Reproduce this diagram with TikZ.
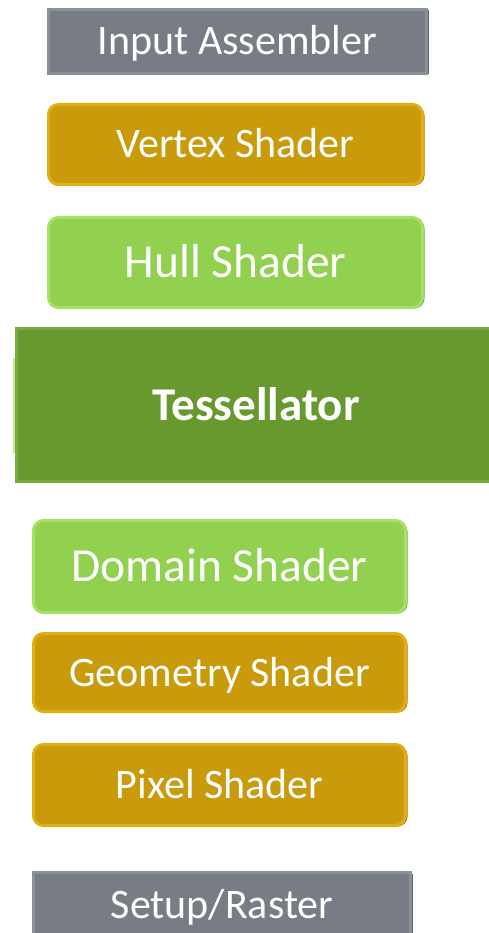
\documentclass[tikz,border=0pt]{standalone}
\usepackage{fontspec}
\setmainfont{Carlito}
\usetikzlibrary{shadows}
\definecolor{grayM}{HTML}{787C84}
\definecolor{grayL}{HTML}{8C9098}
\definecolor{grayD}{HTML}{5E6268}
\definecolor{goldM}{HTML}{C99A0A}
\definecolor{goldL}{HTML}{E2AE12}
\definecolor{goldD}{HTML}{9C7808}
\definecolor{lgM}{HTML}{92D050}
\definecolor{lgL}{HTML}{A6E064}
\definecolor{lgD}{HTML}{70A43E}
\definecolor{dgM}{HTML}{68992F}
\definecolor{dgL}{HTML}{78AA3C}
\definecolor{dgD}{HTML}{527E26}
\definecolor{artL}{HTML}{C8E4A4}
\begin{document}
\begin{tikzpicture}[x=1pt,y=-1pt,
  stage/.style n args={5}{rectangle, fill=#1, draw=#2, line width=3pt,
    general shadow={fill=#3, shadow xshift=2pt, shadow yshift=-1pt},
    minimum width=#4-3pt, minimum height=#5-3pt, inner sep=0pt,
    text=white, text depth=0pt},
  grayst/.style 2 args={stage={grayM}{grayL}{grayD}{#1}{#2}},
  goldst/.style 2 args={stage={goldM}{goldL}{goldD}{#1}{#2}, rounded corners=10pt},
  lgst/.style 2 args={stage={lgM}{lgL}{lgD}{#1}{#2}, rounded corners=10pt},
  dgst/.style 2 args={stage={dgM}{dgL}{dgD}{#1}{#2}},
  small/.style={font=\fontsize{42}{50}\selectfont, text height=27pt},
  big/.style={font=\fontsize{47.5}{56}\selectfont, text height=30.5pt},
  bigb/.style={font=\fontsize{47}{56}\selectfont\bfseries, text height=30.2pt}]
\useasboundingbox (0,0) rectangle (489,933);
\clip (0,0) rectangle (489,933);
\node[grayst={381pt}{67pt}, small] (ia) at (237.5,41.5) {Input Assembler};
\node[goldst={377pt}{83pt}, small] (vs) at (235.5,144.5) {Vertex Shader};
\node[lgst={377pt}{93pt}, big] (hs) at (235.5,262.5) {Hull Shader};
\fill[artL] (13,358) rectangle (16,453);
\node[dgst={482pt}{156pt}, bigb] (ts) at (256,405) {Tessellator};
\node[lgst={375pt}{95pt}, big] (ds) at (219.5,566.5) {Domain Shader};
\node[goldst={375pt}{81pt}, small] (gs) at (219.5,672.5) {Geometry Shader};
\node[goldst={375pt}{84pt}, small] (ps) at (219.5,785) {Pixel Shader};
\node[grayst={380pt}{67pt}, small] (sr) at (222,904.5) {Setup/Raster};
\end{tikzpicture}
\end{document}
